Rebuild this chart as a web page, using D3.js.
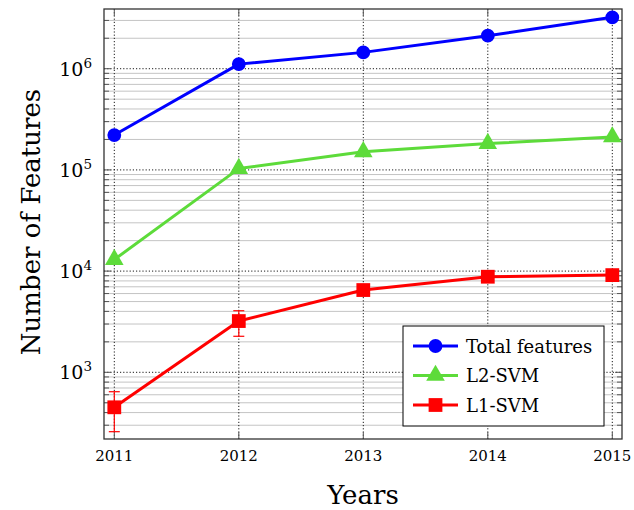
<!DOCTYPE html>
<html>
<head>
<meta charset="utf-8">
<script src="https://cdn.jsdelivr.net/npm/d3@7"></script>
<style>
  html, body { margin: 0; padding: 0; background: #fff; }
  svg { display: block; }
  text { font-family: "DejaVu Serif", "Liberation Serif", serif; fill: #000; }
</style>
</head>
<body>
<svg id="chart" width="634" height="510"></svg>
<script>
// Feature counts per year
const years = [2011, 2012, 2013, 2014, 2015];
const totalFeatures = [221000, 1110000, 1450000, 2120000, 3220000];
const l2svm = [13000, 103000, 151000, 182000, 212000];
const l1svm = [451, 3210, 6500, 8800, 9130];
const l1Lower = [259, 2270, 6100, 8300, 8700];
const l1Upper = [643, 4060, 6900, 9300, 9550];
const yTickLabels = ["3", "4", "5", "6"];
const legendLabels = ["Total features", "L2-SVM", "L1-SVM"];
const colors = ["#0000ff", "#5ddb3a", "#ff0000"];

const svg = d3.select("#chart");
const frame = { left: 104, right: 622, top: 9, bottom: 439 };

const x = d3.scaleLinear().domain([2011, 2015]).range([114.3, 612.3]);
const y = d3.scaleLog().domain([Math.pow(10, 2.341), Math.pow(10, 6.59)]).range([frame.bottom, frame.top]);

const g = svg.append("g");

// minor grid (2..9 of each decade)
const minorVals = [];
for (let d = 2; d <= 6; d++) {
  for (let m = 2; m <= 9; m++) {
    const v = m * Math.pow(10, d);
    if (v >= y.domain()[0] && v <= y.domain()[1]) minorVals.push(v);
  }
}
const majorVals = [1e3, 1e4, 1e5, 1e6];

g.selectAll("line.minor").data(minorVals).join("line")
  .attr("x1", frame.left).attr("x2", frame.right)
  .attr("y1", d => y(d)).attr("y2", d => y(d))
  .attr("stroke", "#c4c4c4").attr("stroke-width", 1);

g.selectAll("line.major").data(majorVals).join("line")
  .attr("x1", frame.left).attr("x2", frame.right)
  .attr("y1", d => y(d)).attr("y2", d => y(d))
  .attr("stroke", "#000").attr("stroke-width", 0.9)
  .attr("stroke-dasharray", "1.2,2");

g.selectAll("line.vgrid").data(years).join("line")
  .attr("x1", d => x(d)).attr("x2", d => x(d))
  .attr("y1", frame.top).attr("y2", frame.bottom)
  .attr("stroke", "#000").attr("stroke-width", 0.9)
  .attr("stroke-dasharray", "1.2,2");

// tick marks drawn inside the frame on all sides
const ticks = g.append("g").attr("stroke", "#555").attr("stroke-width", 1);
minorVals.forEach(v => {
  ticks.append("line").attr("x1", frame.left).attr("x2", frame.left + 5).attr("y1", y(v)).attr("y2", y(v));
  ticks.append("line").attr("x1", frame.right).attr("x2", frame.right - 5).attr("y1", y(v)).attr("y2", y(v));
});
majorVals.forEach(v => {
  ticks.append("line").attr("x1", frame.left).attr("x2", frame.left + 7).attr("y1", y(v)).attr("y2", y(v));
  ticks.append("line").attr("x1", frame.right).attr("x2", frame.right - 7).attr("y1", y(v)).attr("y2", y(v));
});
years.forEach(v => {
  ticks.append("line").attr("x1", x(v)).attr("x2", x(v)).attr("y1", frame.bottom).attr("y2", frame.bottom - 7);
  ticks.append("line").attr("x1", x(v)).attr("x2", x(v)).attr("y1", frame.top).attr("y2", frame.top + 7);
});

// frame
g.append("rect")
  .attr("x", frame.left).attr("y", frame.top)
  .attr("width", frame.right - frame.left).attr("height", frame.bottom - frame.top)
  .attr("fill", "none").attr("stroke", "#333").attr("stroke-width", 1.3);

// x tick labels
g.selectAll("text.xt").data(years).join("text")
  .attr("x", d => x(d)).attr("y", 461)
  .attr("text-anchor", "middle").attr("font-size", 15)
  .text(d => d);

// y tick labels 10^n
majorVals.forEach((v, i) => {
  const t = g.append("text").attr("x", 92).attr("y", y(v) + 7).attr("text-anchor", "end").attr("font-size", 19);
  t.append("tspan").text("10");
  t.append("tspan").attr("dy", -8).attr("font-size", 13.5).text(yTickLabels[i]);
});

// axis titles
g.append("text").attr("x", 363).attr("y", 504).attr("text-anchor", "middle")
  .attr("font-size", 26).text("Years");
g.append("text").attr("transform", "translate(40,222) rotate(-90)")
  .attr("text-anchor", "middle").attr("font-size", 26).text("Number of Features");

const line = d3.line().x(d => x(d[0])).y(d => y(d[1]));
const seriesList = [totalFeatures, l2svm, l1svm];
const markerShapes = [d3.symbolCircle, d3.symbolTriangle, d3.symbolSquare];
const markerSizes = [150, 150, 190];

// error bars for L1-SVM
const eb = g.append("g").attr("stroke", colors[2]).attr("stroke-width", 1.2);
years.forEach((yr, i) => {
  eb.append("line").attr("x1", x(yr)).attr("x2", x(yr)).attr("y1", y(l1Lower[i])).attr("y2", y(l1Upper[i]));
  eb.append("line").attr("x1", x(yr) - 5.5).attr("x2", x(yr) + 5.5).attr("y1", y(l1Lower[i])).attr("y2", y(l1Lower[i]));
  eb.append("line").attr("x1", x(yr) - 5.5).attr("x2", x(yr) + 5.5).attr("y1", y(l1Upper[i])).attr("y2", y(l1Upper[i]));
});

seriesList.forEach((vals, si) => {
  const pts = years.map((yr, i) => [yr, vals[i]]);
  g.append("path").datum(pts).attr("d", line)
    .attr("fill", "none").attr("stroke", colors[si]).attr("stroke-width", 3)
    .attr("stroke-linejoin", "round");
  g.selectAll(null).data(pts).join("path")
    .attr("transform", d => `translate(${x(d[0])},${y(d[1])})`)
    .attr("d", d3.symbol().type(markerShapes[si]).size(markerSizes[si]))
    .attr("fill", colors[si]);
});

// legend
const lg = g.append("g");
lg.append("rect").attr("x", 403).attr("y", 326).attr("width", 201).attr("height", 100)
  .attr("fill", "#fff").attr("stroke", "#000").attr("stroke-width", 1);
legendLabels.forEach((lab, i) => {
  const cy = 346 + i * 29.5;
  lg.append("line").attr("x1", 413).attr("x2", 458).attr("y1", cy).attr("y2", cy)
    .attr("stroke", colors[i]).attr("stroke-width", 3);
  lg.append("path").attr("transform", `translate(435.5,${cy})`)
    .attr("d", d3.symbol().type(markerShapes[i]).size(markerSizes[i]))
    .attr("fill", colors[i]);
  lg.append("text").attr("x", 466).attr("y", cy + 6.5).attr("font-size", 18).text(lab);
});
</script>
</body>
</html>
